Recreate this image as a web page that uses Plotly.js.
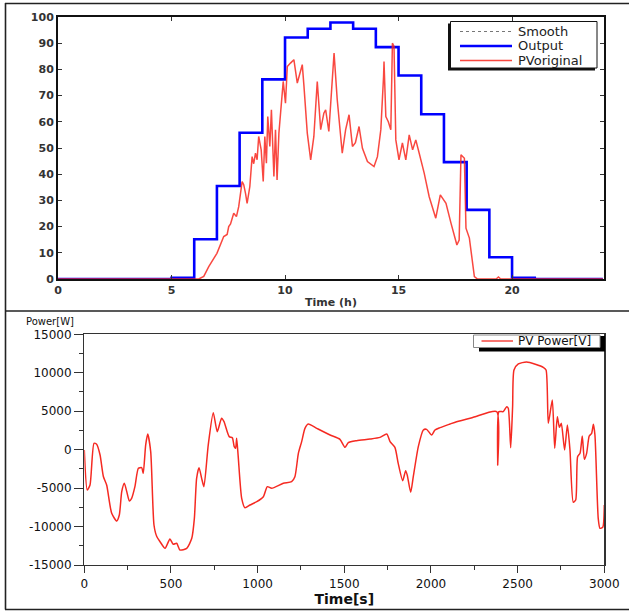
<!DOCTYPE html>
<html>
<head>
<meta charset="utf-8">
<script src="https://cdn.plot.ly/plotly-3.0.1.min.js"></script>
<style>html,body{margin:0;padding:0;background:#fff;}#chart{width:629px;height:611px;}</style>
</head>
<body>
<div id="chart"></div>
<script>
// ---------- Top chart data (hours, %) ----------
const pvHours = [0,6.2,6.42,6.64,7.0,7.08,7.30,7.45,7.52,7.6,7.74,7.86,7.96,8.11,8.18,8.26,8.33,8.45,8.55,8.62,8.70,8.77,8.84,8.95,9.04,9.11,9.18,9.24,9.33,9.40,9.51,9.58,9.65,9.73,9.83,9.92,10.02,10.10,10.24,10.39,10.54,10.68,10.76,10.83,10.98,11.13,11.27,11.42,11.57,11.71,11.79,11.93,12.16,12.30,12.52,12.67,12.82,12.97,13.1,13.26,13.41,13.63,13.92,14.07,14.22,14.34,14.36,14.44,14.55,14.66,14.73,14.80,14.88,15.02,15.17,15.32,15.47,15.62,15.76,15.91,16.13,16.35,16.64,16.84,17.09,17.31,17.57,17.67,17.75,17.90,17.97,18.12,18.34,18.48,19.3,19.4,19.5,24];
const pvOriginal = [0,0,1,4.7,9.8,11.7,16.2,17,20,21,25.1,23.8,27.6,37.2,36,32.7,28.9,35.3,46.7,44,48,45.5,54.4,49.3,37.2,54.4,44.2,62,50.6,64.6,39.1,57,37.8,55.7,64.6,75.4,67.1,81.1,82.4,83.7,74.8,79.9,81.8,74.1,55.7,45.5,54.4,75.4,57,63.3,64.6,56.3,86.2,68.4,48,57,62.7,50.6,52,58.2,49.9,44.8,42.9,46.7,57,77.3,83,62,60,57,90,88.8,53.1,45.5,51.9,45.5,55,49.3,53.1,48,40.4,31.4,23.2,32.1,28.9,21.3,13,14.9,47.4,46.1,19.4,15.6,0.9,0,0,0.8,0,0];
const outHours = [0,5,6,7,8,9,10,11,12,13,14,15,16,17,18,19,20,21,24];
const outValues = [0,0.5,15.2,35.5,55.8,76.2,92.2,95.5,97.9,95.5,88.5,77.7,62.9,44.6,26.4,8.3,0.5,0,0];
const topXTicks = [0,5,10,15,20];
const topXLabels = ['0','5','10','15','20'];
const topYTicks = [0,10,20,30,40,50,60,70,80,90,100];
const topYLabels = ['0','10','20','30','40','50','60','70','80','90','100'];
const topLegendNames = ['Smooth','Output','PVoriginal'];

// ---------- Bottom chart data (s, W) ----------
const timeS = [0,17,33,56,71,91,110,129,158,187,202,216,231,245,260,273,292,312,331,340,354,366,383,402,418,437,466,494,513,533,552,591,620,635,648,662,677,690,715,744,767,792,806,836,854,865,873,879,888,908,927,956,995,1033,1056,1081,1148,1196,1215,1235,1254,1273,1292,1341,1418,1475,1504,1523,1571,1648,1706,1745,1764,1792,1811,1837,1854,1863,1883,1898,1927,1956,1975,2004,2023,2052,2110,2148,2244,2379,2385,2392,2417,2437,2446,2460,2471,2479,2504,2552,2648,2664,2677,2700,2714,2729,2741,2752,2771,2787,2802,2821,2835,2846,2860,2873,2885,2898,2913,2927,2937,2946,2965,2975,2991,3000];
const pvPower = [-50,-5250,-4600,830,700,-700,-3500,-4600,-8280,-9280,-8500,-5460,-4380,-5460,-6680,-6330,-4810,-2430,-2340,-3080,600,2030,-260,-9800,-11300,-11970,-12830,-11620,-12310,-12180,-13050,-12830,-11530,-8930,-3730,-2340,-3730,-4810,600,4810,2340,4080,3640,1690,1560,390,170,1470,-910,-6330,-7550,-7200,-6770,-6120,-4810,-5030,-4380,-4160,-3520,-480,1040,2770,3340,2770,1900,1340,300,910,1170,1380,1600,2030,1040,300,-1780,-4030,-2730,-3300,-5550,-3520,390,2560,2640,1900,2560,2860,3340,3640,4200,4940,-2000,4940,4940,5590,5380,260,5590,10360,11140,11400,10710,10360,3420,6460,170,4290,2900,3420,-50,3200,-50,-6850,-6550,-910,-480,1770,-1260,-480,1770,2120,3290,1900,-8930,-10230,-10100,-7200];
const botXTicks = [0,500,1000,1500,2000,2500,3000];
const botXLabels = ['0','500','1000','1500','2000','2500','3000'];
const botYTicks = [-15000,-10000,-5000,0,5000,10000,15000];
const botYLabels = ['-15000','-10000','-5000','0','5000','10000','15000'];
const botLegendName = 'PV Power[V]';

// ---------- helpers: pixel -> paper (margins are zero) ----------
const W = 629, H = 611;
const px = x => x / W;
const py = y => 1 - y / H;

const traces = [
  {x: outHours, y: outValues, type: 'scatter', mode: 'lines', line: {shape: 'hv', color: '#0000ff', width: 2.6}, xaxis: 'x', yaxis: 'y', showlegend: false, name: topLegendNames[1]},
  {x: pvHours, y: pvOriginal, type: 'scatter', mode: 'lines', line: {color: 'rgba(248,40,30,0.85)', width: 1.5}, xaxis: 'x', yaxis: 'y', showlegend: false, name: topLegendNames[2]},
  {x: timeS, y: pvPower, type: 'scatter', mode: 'lines', line: {color: '#f52a22', width: 1.5, shape: 'spline', smoothing: 0.6}, xaxis: 'x2', yaxis: 'y2', showlegend: false, name: botLegendName}
];

const topTickFont = {family: 'DejaVu Sans', size: 11, color: '#333', weight: 'bold'};
const botTickFont = {family: 'DejaVu Sans', size: 12, color: '#111'};
const topLegendFont = {family: 'DejaVu Sans', size: 13, color: '#222'};

const shapes = [
  // outer frame and divider
  {type: 'line', xref: 'paper', yref: 'paper', x0: px(5), x1: px(629), y0: py(3.5), y1: py(3.5), line: {color: '#222', width: 1.6}},
  {type: 'line', xref: 'paper', yref: 'paper', x0: px(5.5), x1: px(5.5), y0: py(3), y1: py(609.5), line: {color: '#222', width: 1.6}},
  {type: 'line', xref: 'paper', yref: 'paper', x0: px(5), x1: px(629), y0: py(609.5), y1: py(609.5), line: {color: '#222', width: 1.6}},
  {type: 'line', xref: 'paper', yref: 'paper', x0: px(5), x1: px(629), y0: py(311), y1: py(311), line: {color: '#222', width: 1.6}},
  // top legend box with shadow
  {type: 'rect', xref: 'paper', yref: 'paper', x0: px(448), x1: px(595), y0: py(70.5), y1: py(23.5), fillcolor: '#111', line: {width: 0}},
  {type: 'rect', xref: 'paper', yref: 'paper', x0: px(450.5), x1: px(597), y0: py(68), y1: py(21.5), fillcolor: '#fff', line: {color: '#111', width: 1}},
  {type: 'line', xref: 'paper', yref: 'paper', x0: px(460), x1: px(512), y0: py(31.5), y1: py(31.5), line: {color: '#777', width: 1, dash: 'dot'}},
  {type: 'line', xref: 'paper', yref: 'paper', x0: px(460), x1: px(512), y0: py(46), y1: py(46), line: {color: '#0000ff', width: 2.4}},
  {type: 'line', xref: 'paper', yref: 'paper', x0: px(460), x1: px(512), y0: py(60.5), y1: py(60.5), line: {color: 'rgba(248,40,30,0.85)', width: 1.3}},
  // bottom legend box with shadow
  {type: 'rect', xref: 'paper', yref: 'paper', x0: px(479), x1: px(605), y0: py(351.5), y1: py(336), fillcolor: '#000', line: {width: 0}},
  {type: 'rect', xref: 'paper', yref: 'paper', x0: px(473.5), x1: px(600), y0: py(347.5), y1: py(335), fillcolor: '#fff', line: {color: '#888', width: 1}},
  {type: 'line', xref: 'paper', yref: 'paper', x0: px(481.5), x1: px(513), y0: py(341), y1: py(341), line: {color: '#f52a22', width: 1.3}}
];

const annotations = [
  {xref: 'paper', yref: 'paper', x: px(516), y: py(31.5), xanchor: 'left', yanchor: 'middle', showarrow: false, text: topLegendNames[0], font: topLegendFont},
  {xref: 'paper', yref: 'paper', x: px(516), y: py(46), xanchor: 'left', yanchor: 'middle', showarrow: false, text: topLegendNames[1], font: topLegendFont},
  {xref: 'paper', yref: 'paper', x: px(516), y: py(60.5), xanchor: 'left', yanchor: 'middle', showarrow: false, text: topLegendNames[2], font: topLegendFont},
  {xref: 'paper', yref: 'paper', x: px(516), y: py(341), xanchor: 'left', yanchor: 'middle', showarrow: false, text: botLegendName, font: {family: 'DejaVu Sans', size: 12, color: '#111'}},
  {xref: 'paper', yref: 'paper', x: px(24), y: py(321), xanchor: 'left', yanchor: 'middle', showarrow: false, text: 'Power[W]', font: {family: 'DejaVu Sans', size: 10, color: '#111'}}
];

const layout = {
  width: W, height: H,
  margin: {l: 0, r: 0, t: 0, b: 0, pad: 0},
  paper_bgcolor: '#fff', plot_bgcolor: '#fff',
  showlegend: false,
  xaxis: {
    domain: [px(58), px(604)], range: [0, 24.05], anchor: 'y',
    tickmode: 'array', tickvals: topXTicks, ticktext: topXLabels,
    ticks: 'inside', ticklen: 4, tickwidth: 1, tickcolor: '#333',
    showline: true, linecolor: '#111', linewidth: 2, mirror: 'ticks',
    showgrid: false, zeroline: false, tickfont: topTickFont,
    title: {text: 'Time (h)', font: {family: 'DejaVu Sans', size: 11, color: '#333', weight: 'bold'}, standoff: 2}
  },
  yaxis: {
    domain: [py(279), py(17)], range: [0, 100], anchor: 'x',
    tickmode: 'array', tickvals: topYTicks, ticktext: topYLabels,
    ticks: 'inside', ticklen: 4, tickwidth: 1, tickcolor: '#333',
    showline: true, linecolor: '#111', linewidth: 2, mirror: 'ticks',
    showgrid: false, zeroline: false, tickfont: topTickFont
  },
  xaxis2: {
    domain: [px(84.3), px(604.3)], range: [0, 3000], anchor: 'y2',
    tickmode: 'array', tickvals: botXTicks, ticktext: botXLabels,
    ticks: 'outside', ticklen: 7, tickwidth: 1, tickcolor: '#333',
    minor: {dtick: 250, ticks: 'outside', ticklen: 4, tickcolor: '#333', showgrid: false},
    showline: true, linecolor: '#333', linewidth: 1.3, mirror: true,
    showgrid: false, zeroline: false, tickfont: botTickFont,
    title: {text: 'Time[s]', font: {family: 'DejaVu Sans', size: 14, color: '#111', weight: 'bold'}, standoff: 4}
  },
  yaxis2: {
    domain: [py(565), py(334.3)], range: [-15000, 15000], anchor: 'x2',
    tickmode: 'array', tickvals: botYTicks, ticktext: botYLabels,
    ticks: 'outside', ticklen: 9, tickwidth: 1, tickcolor: '#333',
    minor: {dtick: 2500, ticks: 'outside', ticklen: 4, tickcolor: '#333', showgrid: false},
    showline: true, linecolor: '#333', linewidth: 1.3, mirror: true,
    showgrid: false, zeroline: false, tickfont: botTickFont
  },
  shapes: shapes,
  annotations: annotations
};

Plotly.newPlot('chart', traces, layout, {displayModeBar: false, staticPlot: true});
</script>
</body>
</html>
